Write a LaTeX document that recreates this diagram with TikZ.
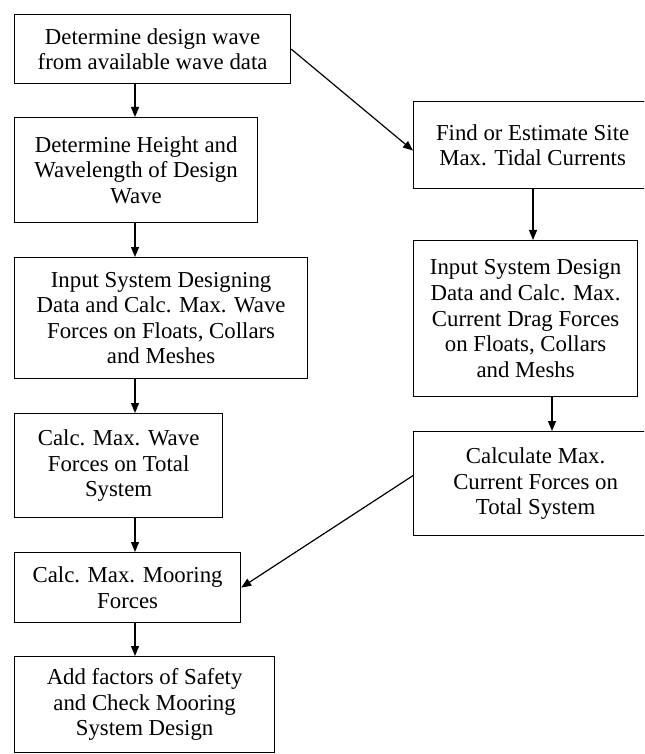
\documentclass[tikz,border=0pt]{standalone}
\usepackage{fontspec}
\setmainfont{Liberation Serif}
\usetikzlibrary{arrows.meta}
\begin{document}
\begin{tikzpicture}[x=0.5pt,y=-0.5pt,
  box/.style={draw=black, line width=0.6pt, anchor=north west, align=center, inner sep=2pt,
    font=\fontsize{11.4}{12.8}\selectfont},
  arr/.style={line width=0.6pt, -{Triangle[length=5pt,width=4pt]}}]
\useasboundingbox (0,0) rectangle (644,754);
\clip (0,0) rectangle (644,754);
% left column
\node[box, minimum width=138pt, minimum height=34.5pt] (wave) at (14,14) {Determine design wave\\from available wave data};
\node[box, minimum width=121.5pt, minimum height=52.5pt] (height) at (14,117) {Determine Height and\\Wavelength of Design\\Wave};
\node[box, minimum width=146.5pt, minimum height=60.5pt] (wforce) at (14,257) {Input System Designing\\Data and Calc. Max. Wave\\Forces on Floats, Collars\\and Meshes};
\node[box, minimum width=104pt, minimum height=52pt] (wtotal) at (14,413) {Calc. Max. Wave\\Forces on Total\\System};
\node[box, minimum width=113pt, minimum height=35pt] (moor) at (14,552) {Calc. Max. Mooring\\Forces};
\node[box, minimum width=130pt, minimum height=48pt] (safety) at (14,656) {Add factors of Safety\\and Check Mooring\\System Design};
% right column
\node[box, minimum width=119pt, minimum height=43.5pt] (tidal) at (413,101) {Find or Estimate Site\\Max. Tidal Currents};
\node[box, minimum width=112pt, minimum height=78pt] (cdrag) at (413,240) {Input System Design\\Data and Calc. Max.\\Current Drag Forces\\on Floats, Collars\\and Meshs};
\node[box, minimum width=122pt, minimum height=52pt] (ctotal) at (413,431) {Calculate Max.\\Current Forces on\\Total System};
% arrow axes
\coordinate (colL) at (135,0);
\coordinate (colA) at (533,0);
\coordinate (colB) at (552,0);
\draw[arr] (wave.south -| colL) -- (height.north -| colL);
\draw[arr] (height.south -| colL) -- (wforce.north -| colL);
\draw[arr] (wforce.south -| colL) -- (wtotal.north -| colL);
\draw[arr] (wtotal.south -| colL) -- (moor.north -| colL);
\draw[arr] (moor.south -| colL) -- (safety.north -| colL);
\draw[arr] (wave.east) -- ([yshift=-2.75pt]tidal.west);
\draw[arr] (tidal.south -| colA) -- (cdrag.north -| colA);
\draw[arr] (cdrag.south -| colB) -- (ctotal.north -| colB);
\draw[arr] ([yshift=4pt]ctotal.west) -- (moor.east);
\end{tikzpicture}
\end{document}
